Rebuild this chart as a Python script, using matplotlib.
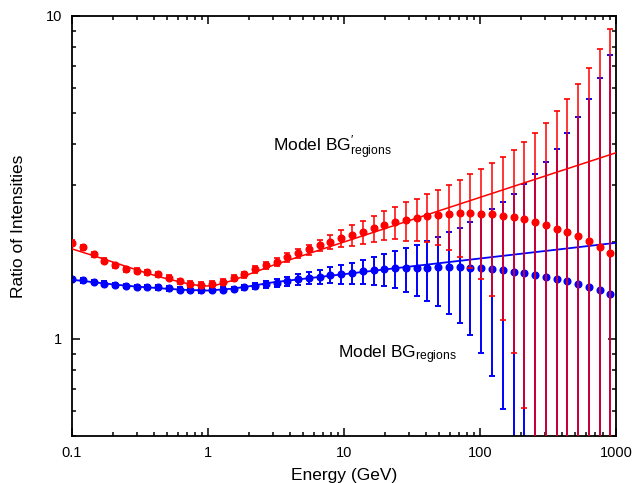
import numpy as np
import matplotlib
matplotlib.use("Agg")
import matplotlib.pyplot as plt
from matplotlib.ticker import LogLocator, NullFormatter, FixedLocator, FixedFormatter

plt.rcParams['font.family'] = ['Liberation Sans', 'DejaVu Sans']
plt.rcParams['mathtext.fontset'] = 'custom'
plt.rcParams['mathtext.rm'] = 'Liberation Sans'
plt.rcParams['mathtext.it'] = 'Liberation Sans:italic'

# energy bins (GeV), ratio 1.2 between neighbours
energia = [0.1, 0.12, 0.144, 0.1728, 0.2074, 0.2488, 0.2986, 0.3583, 0.43, 0.516,
           0.6192, 0.743, 0.8916, 1.07, 1.284, 1.541, 1.849, 2.219, 2.662, 3.195,
           3.834, 4.601, 5.521, 6.625, 7.95, 9.54, 11.45, 13.74, 16.49, 19.78,
           23.74, 28.49, 34.19, 41.03, 49.23, 59.08, 70.9, 85.07, 102.1, 122.5,
           147.0, 176.4, 211.7, 254.0, 304.8, 365.8, 439.0, 526.8, 632.1, 758.5, 910.2]

# Model BG'_regions
razao_linha = [1.984, 1.920, 1.830, 1.745, 1.689, 1.644, 1.624, 1.609, 1.583, 1.545,
               1.506, 1.480, 1.472, 1.484, 1.502, 1.539, 1.583, 1.641, 1.689, 1.733,
               1.787, 1.839, 1.892, 1.951, 1.998, 2.047, 2.093, 2.141, 2.198, 2.256,
               2.299, 2.332, 2.366, 2.400, 2.423, 2.440, 2.447, 2.447, 2.443, 2.429,
               2.405, 2.378, 2.344, 2.299, 2.250, 2.192, 2.137, 2.081, 2.004, 1.924, 1.839]
erro_linha = [0.040, 0.035, 0.033, 0.031, 0.030, 0.029, 0.029, 0.029, 0.028, 0.028,
              0.027, 0.027, 0.027, 0.028, 0.029, 0.033, 0.034, 0.039, 0.046, 0.052,
              0.058, 0.062, 0.068, 0.080, 0.098, 0.125, 0.152, 0.180, 0.202, 0.226,
              0.266, 0.315, 0.350, 0.409, 0.465, 0.554, 0.656, 0.785, 0.913, 1.067,
              1.259, 1.474, 1.734, 2.050, 2.421, 2.875, 3.405, 4.088, 4.914, 5.961, 7.255]

# Model BG_regions
razao = [1.531, 1.517, 1.499, 1.484, 1.467, 1.457, 1.449, 1.446, 1.443, 1.433,
         1.422, 1.415, 1.413, 1.415, 1.422, 1.429, 1.443, 1.457, 1.474, 1.491,
         1.506, 1.528, 1.545, 1.556, 1.576, 1.589, 1.602, 1.618, 1.633, 1.648,
         1.653, 1.660, 1.660, 1.660, 1.664, 1.664, 1.664, 1.663, 1.653, 1.644,
         1.629, 1.613, 1.598, 1.576, 1.553, 1.528, 1.506, 1.477, 1.446, 1.415, 1.379]
erro = [0.024, 0.024, 0.024, 0.023, 0.023, 0.023, 0.023, 0.023, 0.023, 0.023,
        0.022, 0.022, 0.022, 0.022, 0.022, 0.024, 0.026, 0.029, 0.034, 0.040,
        0.047, 0.055, 0.065, 0.076, 0.090, 0.105, 0.122, 0.141, 0.162, 0.189,
        0.220, 0.258, 0.299, 0.346, 0.398, 0.473, 0.544, 0.632, 0.747, 0.874,
        1.023, 1.201, 1.411, 1.670, 1.975, 2.351, 2.824, 3.398, 4.096, 5.024, 6.209]

# fitted curves
ajuste_linha_E = [0.1, 0.15, 0.2, 0.3, 0.4, 0.5, 0.7, 0.9, 1.1, 1.5, 2, 3, 1000]
ajuste_linha = [1.90, 1.80, 1.73, 1.635, 1.575, 1.535, 1.485, 1.458, 1.46, 1.515, 1.585, 1.69, 3.77]
ajuste_E = [0.1, 0.2, 0.3, 0.5, 0.7, 1.0, 1.5, 2, 3, 1000]
ajuste = [1.525, 1.475, 1.452, 1.43, 1.418, 1.412, 1.43, 1.455, 1.497, 1.984]

fig = plt.figure(figsize=(6.37, 4.83), dpi=100)
ax = fig.add_axes([0.113, 0.097, 0.854, 0.870])

ax.errorbar(energia, razao, yerr=erro, fmt='o', color='#0000ff', ms=4.8,
            elinewidth=1.4, capsize=2.3, capthick=1.4, zorder=2)
ax.plot(ajuste_E, ajuste, color='#0000ff', lw=1.3, zorder=3)

ax.errorbar(energia, razao_linha, yerr=erro_linha, fmt='o', color='#ff0000', ms=4.8,
            elinewidth=1.1, capsize=2.3, capthick=1.2, zorder=4)
ax.plot(ajuste_linha_E, ajuste_linha, color='#ff0000', lw=1.1, zorder=5)

ax.set_xscale('log')
ax.set_yscale('log')
ax.set_xlim(0.1, 1000)
ax.set_ylim(0.5, 10)

ax.xaxis.set_major_locator(FixedLocator([0.1, 1, 10, 100, 1000]))
ax.xaxis.set_major_formatter(FixedFormatter(['0.1', '1', '10', '100', '1000']))
ax.xaxis.set_minor_locator(LogLocator(base=10, subs=np.arange(2, 10)))
ax.xaxis.set_minor_formatter(NullFormatter())
ax.yaxis.set_major_locator(FixedLocator([1, 10]))
ax.yaxis.set_major_formatter(FixedFormatter(['1', '10']))
ax.yaxis.set_minor_locator(LogLocator(base=10, subs=np.arange(2, 10)))
ax.yaxis.set_minor_formatter(NullFormatter())

ax.tick_params(which='both', direction='in', top=True, right=True, width=1.1, labelsize=10.5)
ax.tick_params(which='major', length=6, pad=7)
ax.tick_params(which='minor', length=3)
for s in ax.spines.values():
    s.set_linewidth(1.3)

ax.set_xlabel('Energy (GeV)', fontsize=12.5, labelpad=6)
ax.set_ylabel('Ratio of Intensities', fontsize=12.5, labelpad=14)

ax.text(3.0, 3.79, r"Model BG$^{\prime}_{\mathrm{regions}}$", fontsize=12.5, va='baseline')
ax.text(9.1, 0.87, r"Model BG$_{\mathrm{regions}}$", fontsize=12.5, va='baseline')

fig.savefig('out.png', dpi=100)
